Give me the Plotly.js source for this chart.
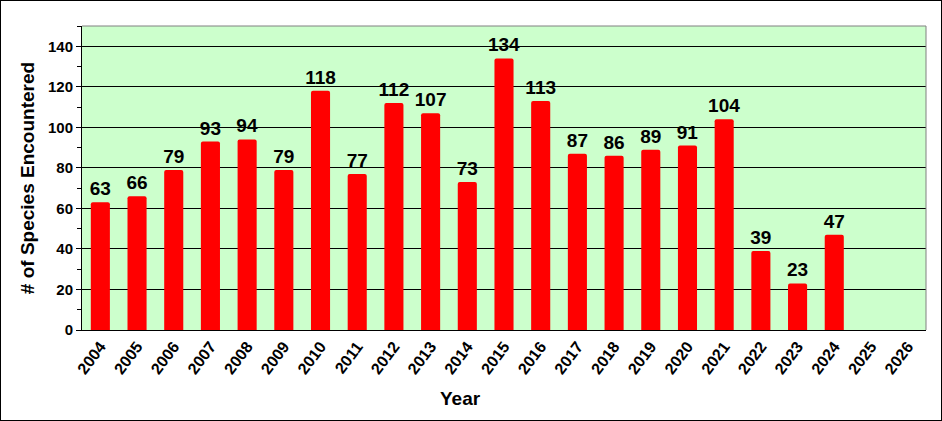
<!DOCTYPE html>
<html>
<head>
<meta charset="utf-8">
<script src="https://cdn.plot.ly/plotly-3.0.1.min.js"></script>
<style>
  body { margin: 0; }
  #chart { width: 942px; height: 421px; box-sizing: border-box; border: 1px solid black; }
</style>
</head>
<body>
<div id="chart"></div>
<script>
const years = ['2004', '2005', '2006', '2007', '2008', '2009', '2010', '2011', '2012', '2013', '2014',
  '2015', '2016', '2017', '2018', '2019', '2020', '2021', '2022', '2023', '2024', '2025', '2026'];
const species = [63, 66, 79, 93, 94, 79, 118, 77, 112, 107, 73, 134, 113, 87, 86, 89, 91, 104, 39, 23, 47, null, null];

const font = 'Arial, "Liberation Sans", sans-serif';

const trace = {
  x: years,
  y: species,
  type: 'bar',
  marker: { color: '#ff0000', line: { width: 0 }, cornerradius: 2 },
  text: species.map((v) => (v === null ? '' : String(v))),
  textposition: 'outside',
  constraintext: 'none',
  cliponaxis: false,
  textfont: { family: font, size: 19, color: 'black', weight: 'bold' },
  hoverinfo: 'x+y',
};

const layout = {
  width: 940,
  height: 419,
  margin: { l: 81, r: 15, t: 25, b: 90 },
  paper_bgcolor: 'white',
  plot_bgcolor: '#ccffcc',
  bargap: 0.48,
  showlegend: false,
  font: { family: font, color: 'black' },
  xaxis: {
    type: 'category',
    tickangle: -53,
    tickfont: { family: font, size: 16, weight: 'bold' },
    showline: true,
    linecolor: 'black',
    linewidth: 1,
    ticks: '',
  },
  yaxis: {
    range: [0, 150],
    dtick: 20,
    tick0: 0,
    ticks: 'outside',
    ticklen: 5,
    tickcolor: 'black',
    tickfont: { family: font, size: 15, weight: 'bold' },
    showline: true,
    linecolor: 'black',
    linewidth: 1,
    gridcolor: 'black',
    gridwidth: 1,
    zeroline: false,
    minor: { dtick: 10, ticks: 'outside', ticklen: 4, tickcolor: 'black', showgrid: false },
    title: { text: '# of Species Encountered', font: { family: font, size: 19, weight: 'bold' }, standoff: 8 },
  },
  // the x title sits a bit left of the plot centre in the original
  annotations: [
    {
      text: 'Year', xref: 'paper', yref: 'paper', x: 0.449, y: -0.224,
      xanchor: 'center', yanchor: 'middle', showarrow: false,
      font: { family: font, size: 19, weight: 'bold', color: 'black' },
    },
  ],
  shapes: [
    { type: 'line', xref: 'paper', yref: 'paper', x0: 0, x1: 1, y0: 1, y1: 1, line: { color: '#808080', width: 1 } },
    { type: 'line', xref: 'paper', yref: 'paper', x0: 1, x1: 1, y0: 0, y1: 1, line: { color: '#808080', width: 1 } },
  ],
};

Plotly.newPlot('chart', [trace], layout, { displayModeBar: false });
</script>
</body>
</html>
